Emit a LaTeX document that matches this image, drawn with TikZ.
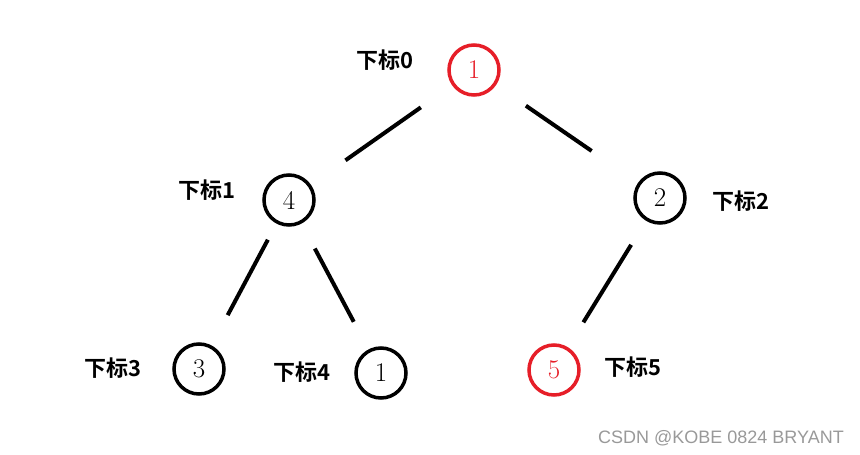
\documentclass[tikz,border=0pt]{standalone}
\usepackage{fontspec}
\newfontfamily\cjk{Noto Sans CJK SC}[BoldFont={Noto Sans CJK SC Bold}]
\newfontfamily\wm{Liberation Sans}
\definecolor{rd}{RGB}{230,30,40}
\begin{document}
\begin{tikzpicture}[x=1pt,y=-1pt,
  nd/.style={circle,draw,line width=3.5pt,minimum size=50pt,inner sep=0pt,outer sep=0pt,font=\fontsize{27}{27}\selectfont},
  red/.style={draw=rd,text=rd},
  lb/.style={font=\cjk\bfseries\fontsize{22}{22}\selectfont},
  ed/.style={line width=4pt}]
\useasboundingbox (0,0) rectangle (860,455);
\node[nd,red] (n0) at (474,70) {1};
\node[nd] (n1) at (289,200) {4};
\node[nd] (n2) at (660,198) {2};
\node[nd] (n3) at (199,369) {3};
\node[nd] (n4) at (381,373) {1};
\node[nd,red] (n5) at (554,370) {5};
\node[lb] (l0) at (385,60) {下标0};
\node[lb] (l1) at (207,190) {下标1};
\node[lb] (l2) at (741,201) {下标2};
\node[lb] (l3) at (113,368) {下标3};
\node[lb] (l4) at (302,372) {下标4};
\node[lb] (l5) at (633,367) {下标5};
\draw[ed,shorten <=40pt,shorten >=44pt] (n0) -- (n1);
\draw[ed,shorten <=38pt,shorten >=58pt] (n0) -- (n2);
\draw[ed,shorten <=20pt,shorten >=36pt] (n1) -- (n3);
\draw[ed,shorten <=30pt,shorten >=33pt] (n1) -- (n4);
\draw[ed,shorten <=30pt,shorten >=31pt] (n2) -- (n5);
\node[font=\wm\fontsize{18}{18}\selectfont,text=gray!80] (wm) at (721,438) {CSDN @KOBE 0824 BRYANT};
\end{tikzpicture}
\end{document}
